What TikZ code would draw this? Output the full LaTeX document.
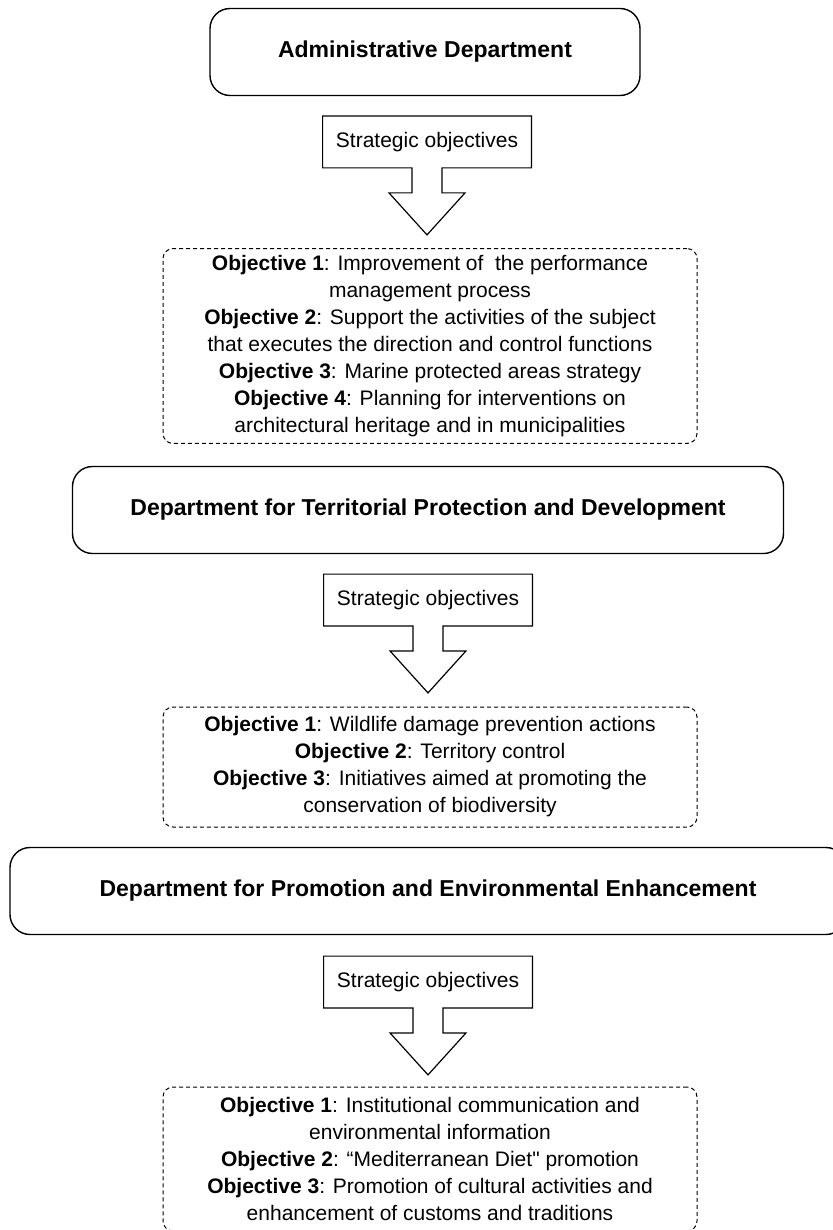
\documentclass[tikz,border=0pt]{standalone}
\usepackage{fontspec}
\setmainfont{Liberation Sans}[Ligatures=TeXOff]
\usetikzlibrary{calc}

\begin{document}
\begin{tikzpicture}[x=0.5pt,y=-0.5pt,
    dept/.style={draw, line width=0.7pt, rounded corners=10pt, minimum height=43.5pt, font=\bfseries\fontsize{11.5}{14}\selectfont},
    sobox/.style={minimum width=104pt, minimum height=25.5pt, inner sep=0pt, font=\fontsize{10.5}{13}\selectfont},
    soline/.style={draw, line width=0.6pt, line join=miter},
    objbox/.style={draw, line width=0.5pt, dash pattern=on 2pt off 1.5pt, rounded corners=5pt, minimum width=267pt, align=center, font=\fontsize{10.5}{13.5}\selectfont}]

    % Page frame
    \useasboundingbox (0,0) rectangle (832,1230);

    % Departments
    \node[dept, minimum width=215pt] (dept1) at (425,52) {Administrative Department};
    \node[dept, minimum width=355.5pt] (dept2) at (428,510) {Department for Territorial Protection and Development};
    \node[dept, minimum width=418pt] (dept3) at (428,891) {Department for Promotion and Environmental Enhancement};

    % Strategic objectives labels
    \node[sobox] (so1) at (427,142) {Strategic objectives};
    \node[sobox] (so2) at (428,600) {Strategic objectives};
    \node[sobox] (so3) at (428,982) {Strategic objectives};

    % Block arrows under the labels
    \foreach \n in {so1,so2,so3} {
        \draw[soline] (\n.south west) -- (\n.north west) -- (\n.north east) -- (\n.south east)
            -- ($(\n.south)+(15,0)$) -- ++(0,25) -- ++(23,0) -- ++(-38,42) -- ++(-38,-42)
            -- ++(23,0) -- ++(0,-25) -- cycle;
    }

    % Objectives of each department
    \node[objbox, minimum height=97pt] (obj1) at (430,346) {%
        \textbf{Objective 1}: Improvement of \ the performance\\
        management process\\
        \textbf{Objective 2}: Support the activities of the subject\\
        that executes the direction and control functions\\
        \textbf{Objective 3}: Marine protected areas strategy\\
        \textbf{Objective 4}: Planning for interventions on\\
        architectural heritage and in municipalities};
    \node[objbox, minimum height=60pt] (obj2) at (430,767) {%
        \textbf{Objective 1}: Wildlife damage prevention actions\\
        \textbf{Objective 2}: Territory control\\
        \textbf{Objective 3}: Initiatives aimed at promoting the\\
        conservation of biodiversity};
    \node[objbox, minimum height=72pt] (obj3) at (430,1159) {%
        \textbf{Objective 1}: Institutional communication and\\
        environmental information\\
        \textbf{Objective 2}: “Mediterranean Diet" promotion\\
        \textbf{Objective 3}: Promotion of cultural activities and\\
        enhancement of customs and traditions};

\end{tikzpicture}
\end{document}
